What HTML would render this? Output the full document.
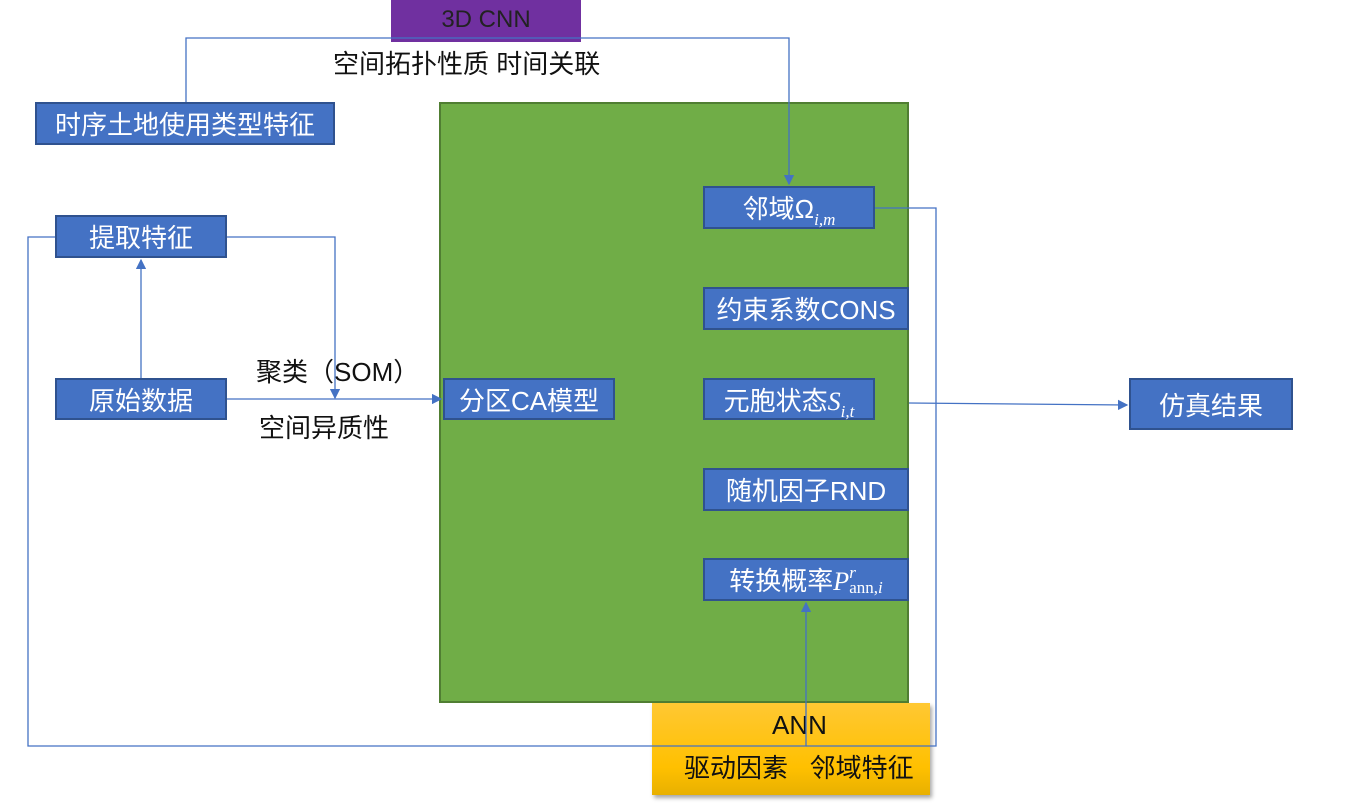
<!DOCTYPE html>
<html><head><meta charset="utf-8"><style>
body{margin:0;width:1368px;height:803px;background:#fff;position:relative;overflow:hidden;font-family:"Liberation Sans","Noto Sans CJK SC",sans-serif}
.b{position:absolute;background:#4472C4;border:2px solid #2F528F;box-sizing:border-box;color:#fff;font-size:26px;display:flex;align-items:center;justify-content:center;white-space:nowrap}
.t{position:absolute;font-size:26px;color:#111;white-space:nowrap}
i{font-family:"Liberation Serif",serif}
.s{font-size:17px;font-family:"Liberation Serif",serif;position:relative;top:7px}
</style></head><body>
<div style="position:absolute;left:439px;top:102px;width:470px;height:601px;background:#70AD47;border:2px solid #507E32;box-sizing:border-box"></div>
<div style="position:absolute;left:391px;top:0;width:190px;height:42px;background:#7030A0;color:#222;font-size:24px;text-align:center;line-height:40px">3D CNN</div>
<div style="position:absolute;left:652px;top:703px;width:278px;height:92px;background:linear-gradient(#ffc833,#ffc000 70%,#e8b000);box-shadow:2px 3px 4px rgba(0,0,0,.35)"></div>
<div class="t" style="left:772px;top:710px">ANN</div>
<div class="t" style="left:684px;top:748px">驱动因素&nbsp;&nbsp;&nbsp;邻域特征</div>
<div class="b" style="left:35px;top:102px;width:300px;height:43px">时序土地使用类型特征</div>
<div class="b" style="left:55px;top:215px;width:172px;height:43px">提取特征</div>
<div class="b" style="left:55px;top:378px;width:172px;height:42px">原始数据</div>
<div class="b" style="left:443px;top:378px;width:172px;height:42px">分区CA模型</div>
<div class="b" style="left:703px;top:186px;width:172px;height:43px"><span>邻域Ω<span class="s"><i>i,m</i></span></span></div>
<div class="b" style="left:703px;top:287px;width:206px;height:43px">约束系数CONS</div>
<div class="b" style="left:703px;top:378px;width:172px;height:42px"><span>元胞状态<i>S</i><span class="s"><i>i,t</i></span></span></div>
<div class="b" style="left:703px;top:468px;width:206px;height:43px">随机因子RND</div>
<div class="b" style="left:703px;top:558px;width:206px;height:43px"><span>转换概率<i>P</i></span><span style="display:inline-flex;flex-direction:column;line-height:15px;font-size:17px;font-family:'Liberation Serif',serif"><span><i>r</i></span><span>ann,<i>i</i></span></span></div>
<div class="b" style="left:1129px;top:378px;width:164px;height:52px">仿真结果</div>
<div class="t" style="left:333px;top:44px">空间拓扑性质 时间关联</div>
<div class="t" style="left:256px;top:352px">聚类（SOM）</div>
<div class="t" style="left:259px;top:408px">空间异质性</div>
<svg width="1368" height="803" style="position:absolute;left:0;top:0" fill="none" stroke="#4472C4" stroke-width="1.3">
<defs><marker id="a" markerWidth="8" markerHeight="8" refX="7" refY="4" orient="auto"><path d="M0,0L8,4L0,8z" fill="#4472C4" stroke="none"/></marker></defs>
<path d="M186,102V38H789V184" marker-end="url(#a)"/>
<path d="M141,378V260" marker-end="url(#a)"/>
<path d="M227,237H335V398" marker-end="url(#a)"/>
<path d="M227,399H441" marker-end="url(#a)"/>
<path d="M55,237H28V746H806V603" marker-end="url(#a)"/>
<path d="M875,208H936V746H806"/>
<path d="M909,403L1127,405" marker-end="url(#a)"/>
</svg>
</body></html>
